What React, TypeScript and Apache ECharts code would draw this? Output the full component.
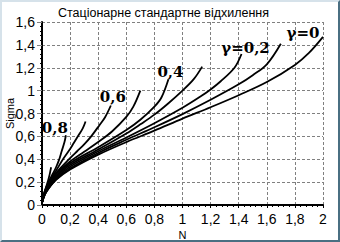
import React, { useEffect, useRef } from "react";
import * as echarts from "echarts";

// gamma values of the curves
const gammas = [0, 0.1, 0.2, 0.3, 0.4, 0.5, 0.6, 0.7, 0.8, 0.9];

// N (x) and Sigma (y) readings for each curve
const nG00 = [0, 0.02, 0.05, 0.1, 0.2, 0.4, 0.6, 0.8, 1.0, 1.2, 1.4, 1.6, 1.8, 1.9, 2.0];
const sG00 = [0.02, 0.09, 0.15, 0.22, 0.31, 0.44, 0.55, 0.65, 0.755, 0.855, 0.96, 1.075, 1.225, 1.33, 1.47];

const nG01 = [0, 0.02, 0.05, 0.1, 0.2, 0.4, 0.6, 0.8, 1.0, 1.2, 1.4, 1.5, 1.6, 1.7];
const sG01 = [0.02, 0.09, 0.15, 0.225, 0.32, 0.455, 0.57, 0.68, 0.795, 0.92, 1.055, 1.135, 1.23, 1.41];

const nG02 = [0, 0.02, 0.05, 0.1, 0.2, 0.4, 0.6, 0.8, 1.0, 1.13, 1.2, 1.27, 1.37, 1.42];
const sG02 = [0.02, 0.095, 0.155, 0.235, 0.335, 0.47, 0.59, 0.715, 0.85, 0.95, 1.01, 1.08, 1.2, 1.32];

const nG03 = [0, 0.02, 0.05, 0.1, 0.2, 0.4, 0.6, 0.7, 0.8, 0.9, 1.0, 1.08, 1.14];
const sG03 = [0.02, 0.1, 0.16, 0.245, 0.35, 0.485, 0.625, 0.705, 0.79, 0.89, 1.0, 1.1, 1.21];

const nG04 = [0, 0.02, 0.05, 0.1, 0.2, 0.4, 0.6, 0.7, 0.8, 0.85, 0.9];
const sG04 = [0.02, 0.1, 0.165, 0.255, 0.365, 0.505, 0.655, 0.745, 0.86, 0.94, 1.1];

const nG05 = [0, 0.02, 0.05, 0.1, 0.2, 0.3, 0.4, 0.5, 0.6, 0.65, 0.7];
const sG05 = [0.02, 0.105, 0.175, 0.27, 0.38, 0.465, 0.55, 0.645, 0.77, 0.86, 1.0];

const nG06 = [0, 0.02, 0.05, 0.1, 0.2, 0.25, 0.3, 0.35, 0.41, 0.45, 0.49];
const sG06 = [0.02, 0.11, 0.19, 0.28, 0.41, 0.47, 0.53, 0.6, 0.7, 0.77, 0.87];

const nG07 = [0, 0.02, 0.05, 0.1, 0.155, 0.2, 0.225, 0.26, 0.29, 0.31];
const sG07 = [0.02, 0.12, 0.2, 0.3, 0.41, 0.49, 0.54, 0.61, 0.67, 0.73];

const nG08 = [0, 0.02, 0.05, 0.08, 0.1, 0.12, 0.14, 0.16, 0.17];
const sG08 = [0.02, 0.12, 0.21, 0.28, 0.33, 0.39, 0.47, 0.55, 0.61];

const nG09 = [0, 0.01, 0.02, 0.035, 0.045, 0.055, 0.06, 0.065];
const sG09 = [0.02, 0.07, 0.12, 0.18, 0.22, 0.27, 0.3, 0.33];

const curveN = [nG00, nG01, nG02, nG03, nG04, nG05, nG06, nG07, nG08, nG09];
const curveS = [sG00, sG01, sG02, sG03, sG04, sG05, sG06, sG07, sG08, sG09];

// curve labels: gamma index -> text
const labelIndex = [0, 2, 4, 6, 8];
const labelText = ["γ=0", "γ=0,2", "0,4", "0,6", "0,8"];
const labelOffset: [number, number][] = [
  [-20, -4],
  [4, -6],
  [2, -7],
  [2, -8],
  [-11, -7],
];

const titleText = "Стаціонарне стандартне відхилення";
const xName = "N";
const yName = "Sigma";

const fmt = (v: number) => String(Math.round(v * 10) / 10).replace(".", ",");

export default function App() {
  const ref = useRef<HTMLDivElement>(null);
  useEffect(() => {
    if (!ref.current) return;
    const chart = echarts.init(ref.current, undefined, { renderer: "svg" });
    const series: any[] = gammas.map((g, i) => {
      const li = labelIndex.indexOf(i);
      const data = curveN[i].map((n, k) => [n, curveS[i][k]]);
      const s: any = {
        type: "line",
        name: "γ=" + fmt(g),
        data,
        showSymbol: false,
        smooth: 0.35,
        lineStyle: { color: "#000", width: 1.8 },
        silent: true,
      };
      if (li >= 0) {
        const last = data[data.length - 1];
        s.markPoint = {
          symbol: "circle",
          symbolSize: 1,
          itemStyle: { color: "rgba(0,0,0,0)" },
          data: [{ coord: last }],
          label: {
            show: true,
            position: "inside",
            formatter: labelText[li],
            offset: labelOffset[li],
            fontFamily: "DejaVu Serif",
            fontWeight: "bold",
            fontSize: 15,
            color: "#000",
          },
        };
      }
      return s;
    });
    chart.setOption({
      animation: false,
      backgroundColor: "#ffffff",
      title: {
        text: titleText,
        left: 53,
        top: 1,
        textStyle: {
          fontFamily: "Liberation Sans",
          fontSize: 12.5,
          fontWeight: "normal",
          color: "#000",
        },
      },
      grid: { left: 42, right: 17, top: 22, bottom: 37, containLabel: false, outerBoundsMode: "none" },
      xAxis: {
        type: "value",
        min: 0,
        max: 2,
        interval: 0.2,
        name: xName,
        nameLocation: "middle",
        nameGap: 24,
        nameMoveOverlap: false,
        nameTextStyle: { fontFamily: "Liberation Sans", fontSize: 11, lineHeight: 11, color: "#000" },
        axisLine: { show: true, onZero: false, lineStyle: { color: "#000", width: 2 } },
        axisTick: { show: true, length: 3, lineStyle: { color: "#000" } },
        minorTick: { show: true, splitNumber: 5, length: 2, lineStyle: { color: "#000" } },
        axisLabel: {
          margin: 7,
          formatter: fmt,
          fontFamily: "Liberation Sans",
          fontSize: 14,
          color: "#000",
        },
        splitLine: { show: true, lineStyle: { color: "#808080", type: [3, 2], width: 1 } },
      },
      yAxis: {
        type: "value",
        min: 0,
        max: 1.6,
        interval: 0.2,
        name: yName,
        nameLocation: "middle",
        nameGap: 27,
        nameMoveOverlap: false,
        nameTextStyle: { fontFamily: "Liberation Sans", fontSize: 11, lineHeight: 11, color: "#000" },
        axisLine: { show: true, lineStyle: { color: "#000", width: 2 } },
        axisTick: { show: true, length: 5, lineStyle: { color: "#808080" } },
        minorTick: { show: true, splitNumber: 5, length: 2, lineStyle: { color: "#000" } },
        axisLabel: {
          margin: 7,
          formatter: fmt,
          fontFamily: "Liberation Sans",
          fontSize: 14,
          color: "#000",
        },
        splitLine: { show: true, lineStyle: { color: "#808080", type: [3, 2], width: 1 } },
      },
      series,
    });
    return () => chart.dispose();
  }, []);
  return (
    <div style={{ position: "absolute", left: 0, top: 0, width: 340, height: 242, background: "#fff" }}>
      <div ref={ref} style={{ position: "absolute", left: 0, top: 0, width: 340, height: 242 }} />
      <div
        style={{
          position: "absolute",
          left: 0,
          top: 0,
          width: 340,
          height: 242,
          boxSizing: "border-box",
          borderLeft: "2px solid #d6e2ea",
          borderTop: "2px solid #d6e2ea",
          borderRight: "2px solid #4a6f82",
          borderBottom: "2px solid #4a6f82",
          pointerEvents: "none",
        }}
      />
    </div>
  );
}
